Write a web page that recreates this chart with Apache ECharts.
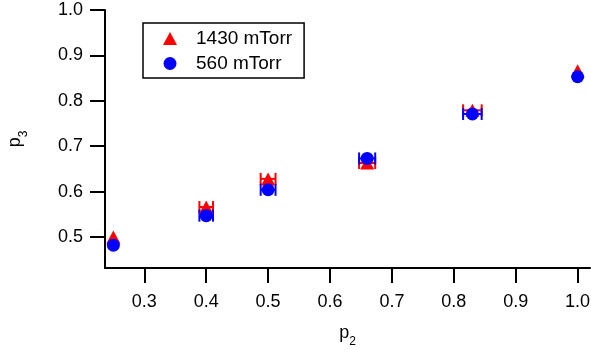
<!DOCTYPE html>
<html>
<head>
<meta charset="utf-8">
<script src="https://cdn.jsdelivr.net/npm/echarts@6/dist/echarts.min.js"></script>
<style>html,body{margin:0;padding:0;background:#fff}#c{width:591px;height:350px}</style>
</head>
<body>
<div id="c"></div>
<script>
const p2 = [0.25, 0.40, 0.50, 0.66, 0.83, 1.00];
const p3_1430 = [0.500, 0.566, 0.628, 0.663, 0.779, 0.866];
const p3_560 = [0.482, 0.547, 0.604, 0.673, 0.771, 0.853];
const xErr = [0, 0.011, 0.012, 0.013, 0.015, 0];
const xTicks = [0.3, 0.4, 0.5, 0.6, 0.7, 0.8, 0.9, 1.0];
const yTicks = [0.5, 0.6, 0.7, 0.8, 0.9, 1.0];

const FONT = 'Liberation Sans, Arial, sans-serif';
const chart = echarts.init(document.getElementById('c'));

function errSeries(name, ys, color) {
  return {
    type: 'custom',
    name: name + ' err',
    data: p2.map((x, i) => [x, ys[i], xErr[i]]),
    silent: true,
    z: 1,
    renderItem: function (params, api) {
      const x = api.value(0), y = api.value(1), e = api.value(2);
      if (!e) return null;
      const a = api.coord([x - e, y]);
      const b = api.coord([x + e, y]);
      const h = 6;
      const st = { stroke: color, lineWidth: 2 };
      return {
        type: 'group',
        children: [
          { type: 'line', shape: { x1: a[0], y1: a[1], x2: b[0], y2: b[1] }, style: st },
          { type: 'line', shape: { x1: a[0], y1: a[1] - h, x2: a[0], y2: a[1] + h }, style: st },
          { type: 'line', shape: { x1: b[0], y1: b[1] - h, x2: b[0], y2: b[1] + h }, style: st }
        ]
      };
    }
  };
}

const axisCommon = {
  axisLine: { show: true, lineStyle: { color: '#000', width: 2 } },
  axisTick: { show: true, inside: false, length: 15, lineStyle: { color: '#000', width: 2 } },
  splitLine: { show: false },
  axisLabel: { color: '#000', fontSize: 18, fontFamily: FONT },
};

chart.setOption({
  animation: false,
  backgroundColor: '#fff',
  grid: { left: 105, right: 1, top: 10, bottom: 82, containLabel: false, outerBoundsMode: 'none' },
  xAxis: Object.assign({}, axisCommon, {
    type: 'value', min: 0.2365, max: 1.02,
    axisLine: { show: true, onZero: false, lineStyle: { color: '#000', width: 2 } },
    axisTick: Object.assign({}, axisCommon.axisTick, { customValues: xTicks }),
    axisLabel: Object.assign({}, axisCommon.axisLabel, { customValues: xTicks, margin: 25, formatter: v => v.toFixed(1) }),
    name: '{a|p}{b|2}', nameLocation: 'middle', nameGap: 56,
    nameTextStyle: { rich: { a: { fontSize: 18, fontFamily: FONT, color: '#000' }, b: { fontSize: 12, fontFamily: FONT, color: '#000', verticalAlign: 'bottom', padding: [0, 0, -6, 0] } } }
  }),
  yAxis: Object.assign({}, axisCommon, {
    type: 'value', min: 0.4317, max: 1.0,
    axisLine: { show: true, onZero: false, lineStyle: { color: '#000', width: 2 } },
    axisTick: Object.assign({}, axisCommon.axisTick, { customValues: yTicks }),
    axisLabel: Object.assign({}, axisCommon.axisLabel, { customValues: yTicks, margin: 22, formatter: v => v.toFixed(1) }),
    name: '{a|p}{b|3}', nameLocation: 'middle', nameGap: 81, nameRotate: 90,
    nameTextStyle: { rich: { a: { fontSize: 18, fontFamily: FONT, color: '#000' }, b: { fontSize: 12, fontFamily: FONT, color: '#000', verticalAlign: 'bottom', padding: [0, 0, -6, 0] } } }
  }),
  legend: {
    data: [
      { name: '1430 mTorr', icon: 'triangle' },
      { name: '560 mTorr', icon: 'circle' }
    ],
    orient: 'vertical', left: 143, top: 23,
    padding: [6, 12, 5, 20],
    itemWidth: 14, itemHeight: 13, itemGap: 6,
    borderColor: '#000', borderWidth: 1.5, borderRadius: 0,
    itemStyle: { opacity: 1 },
    textStyle: { color: '#000', fontSize: 19, fontFamily: FONT, lineHeight: 19, padding: [0, 0, 0, 14] }
  },
  series: [
    errSeries('1430 mTorr', p3_1430, '#ff0000'),
    {
      type: 'scatter', name: '1430 mTorr', symbol: 'triangle', symbolSize: [14, 13], z: 2,
      itemStyle: { color: '#ff0000', opacity: 1 },
      data: p2.map((x, i) => [x, p3_1430[i]])
    },
    errSeries('560 mTorr', p3_560, '#0000ff'),
    {
      type: 'scatter', name: '560 mTorr', symbol: 'circle', symbolSize: 13, z: 3,
      itemStyle: { color: '#0000ff', opacity: 1 },
      data: p2.map((x, i) => [x, p3_560[i]])
    }
  ]
});
</script>
</body>
</html>
